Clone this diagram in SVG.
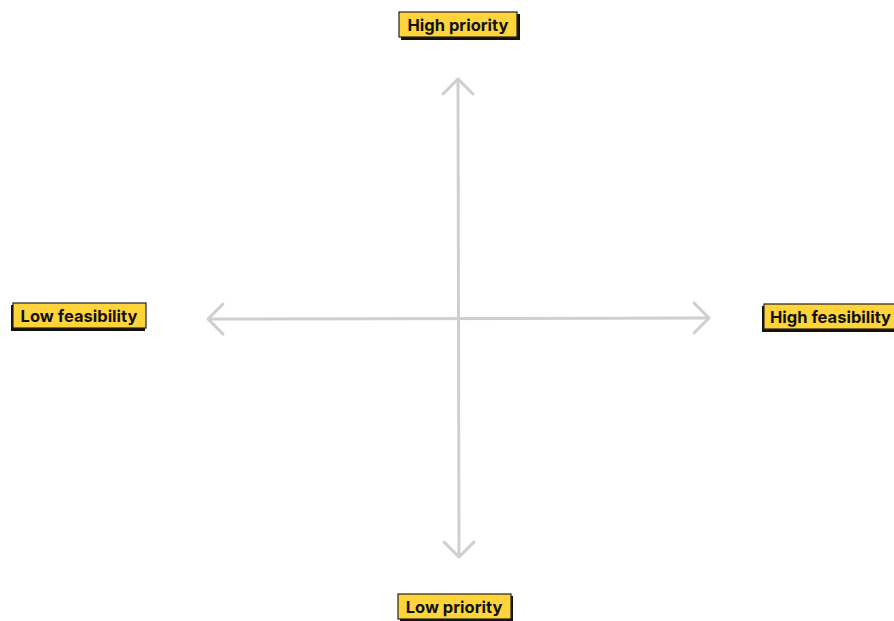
<svg xmlns="http://www.w3.org/2000/svg" width="894" height="621" viewBox="0 0 894 621">
<style>
.box{fill:#FFD43B;stroke:#222;stroke-width:1.2}
.sh{fill:#111}
.lbl{font-family:Inter,"Liberation Sans",sans-serif;font-weight:700;font-size:16.5px;fill:#111;dominant-baseline:central}
.ax{stroke:#cfcfcf;stroke-width:3;fill:none;stroke-linecap:round;stroke-linejoin:round}
</style>
<rect width="894" height="621" fill="#fff"/>
<g id="connectors">
<path class="ax" d="M458 80 L459 556"/>
<path class="ax" d="M443 94 L458 79 L473 94"/>
<path class="ax" d="M444 542 L459 557 L474 542"/>
<path class="ax" d="M209 319 L708 318"/>
<path class="ax" d="M223 304 L208 319 L223 334"/>
<path class="ax" d="M694 303 L709 318 L694 333"/>
</g>
<g id="high-priority">
<rect class="sh" x="401" y="14" width="119" height="26"/>
<rect class="box" x="399" y="12" width="118" height="25"/>
<text class="lbl" x="458" y="25" text-anchor="middle">High priority</text>
</g>
<g id="low-feasibility">
<rect class="sh" x="11" y="305" width="134" height="26"/>
<rect class="box" x="13" y="303" width="133" height="25"/>
<text class="lbl" x="79" y="316" text-anchor="middle">Low feasibility</text>
</g>
<g id="high-feasibility">
<rect class="sh" x="762" y="306" width="140" height="26"/>
<rect class="box" x="764" y="304" width="140" height="25"/>
<text class="lbl" x="770" y="317">High feasibility</text>
</g>
<g id="low-priority">
<rect class="sh" x="400" y="596" width="113" height="26"/>
<rect class="box" x="398" y="594" width="113" height="25"/>
<text class="lbl" x="454" y="607" text-anchor="middle">Low priority</text>
</g>
</svg>
